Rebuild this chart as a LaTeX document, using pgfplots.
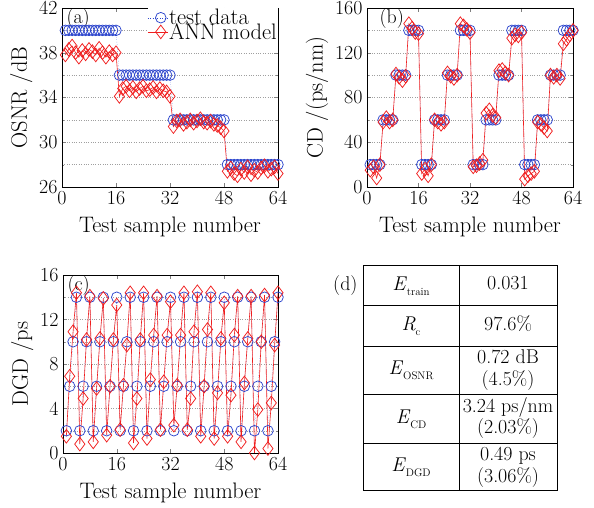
\documentclass[border=0pt]{standalone}
\usepackage{pgfplots}
\usepackage{pgfplotstable}
\pgfplotsset{compat=1.18}
\definecolor{tdblue}{RGB}{45,70,205}
\definecolor{annred}{RGB}{240,30,30}

% i, OSNR test/ANN, CD test/ANN, DGD test/ANN
\pgfplotstableread{
i osnr osnra cd cda dgd dgda
1 40 37.8 20 15 2 1.5
2 40 38.3 20 18 6 6.9
3 40 38.6 20 8 10 10.9
4 40 38.0 20 20 14 14.4
5 40 37.6 60 58 2 0.8
6 40 38.2 60 62 6 4.9
7 40 37.9 60 58 10 10.2
8 40 38.3 60 60 14 14.1
9 40 38.1 100 101 2 1.0
10 40 37.8 100 98 6 5.8
11 40 38.4 100 95 10 10.3
12 40 38.0 100 99 14 13.9
13 40 37.6 140 146 2 1.6
14 40 38.1 140 142 6 6.0
15 40 37.8 140 138 10 10.2
16 40 38.0 140 137 14 13.3
17 36 34.1 20 12 2 2.1
18 36 34.8 20 16 6 6.1
19 36 35.0 20 10 10 9.7
20 36 34.6 20 20 14 14.4
21 36 34.9 60 60 2 0.9
22 36 34.5 60 58 6 4.9
23 36 34.8 60 56 10 10.2
24 36 35.0 60 58 14 14.4
25 36 34.6 100 102 2 1.3
26 36 34.7 100 99 6 6.6
27 36 34.9 100 97 10 10.6
28 36 34.5 100 100 14 14.1
29 36 34.8 140 146 2 2.1
30 36 34.6 140 144 6 6.4
31 36 34.5 140 141 10 10.6
32 36 34.1 140 138 14 13.6
33 32 31.4 20 18 2 2.5
34 32 31.9 20 19 6 6.1
35 32 32.0 20 21 10 10.6
36 32 31.6 20 24 14 14.4
37 32 31.8 60 66 2 2.1
38 32 32.0 60 69 6 4.9
39 32 31.7 60 64 10 10.9
40 32 31.9 60 62 14 14.5
41 32 32.1 100 104 2 1.5
42 32 31.8 100 105 6 6.0
43 32 31.7 100 102 10 11.1
44 32 31.9 100 100 14 14.4
45 32 31.6 140 133 2 1.3
46 32 31.5 140 136 6 5.4
47 32 31.3 140 135 10 10.3
48 32 31.0 140 138 14 13.5
49 28 27.4 20 7 2 1.5
50 28 27.7 20 10 6 5.2
51 28 27.2 20 12 10 10.6
52 28 27.0 20 14 14 14.1
53 28 27.6 60 58 2 1.0
54 28 27.3 60 56 6 6.3
55 28 27.8 60 53 10 10.3
56 28 27.1 60 50 14 14.1
57 28 27.5 100 100 2 0.0
58 28 27.3 100 98 6 3.9
59 28 27.7 100 100 10 10.0
60 28 27.9 100 97 14 14.2
61 28 27.4 140 128 2 0.4
62 28 27.6 140 132 6 4.5
63 28 27.8 140 136 10 9.7
64 28 27.2 140 140 14 14.4
}\data

\newcommand{\bigfont}{\fontsize{20}{22}\selectfont}
\newcommand{\labfont}{\fontsize{22.5}{24}\selectfont}
\newcommand{\sub}[1]{\raisebox{-0.55ex}{\fontsize{11}{12}\selectfont #1}}

\pgfplotsset{
  panel/.style={
    scale only axis,
    xmin=0, xmax=64, xtick={0,16,...,64},
    tick align=inside,
    major tick length=4bp, minor tick length=2bp,
    ymajorgrids, yminorgrids,
    major grid style={dotted, gray!75},
    minor grid style={dotted, gray!75},
    minor y tick num=1,
    /pgf/number format/assume math mode=true,
    tick label style={font=\bigfont},
    xlabel={Test sample number},
    xticklabel style={yshift=-1bp},
    yticklabel style={xshift=-1bp},
    x label style={font=\labfont, yshift=-5bp},
    y label style={font=\labfont},
  },
  testdata/.style={tdblue, dotted, thin, mark=o, mark size=5.3bp,
    mark options={solid, line width=0.75pt}},
  annmodel/.style={annred, solid, line width=0.6pt, mark=diamond, mark size=6.8bp,
    mark options={solid, line width=0.75pt}},
}

\begin{document}
\begin{tikzpicture}[x=1bp, y=1bp]
\path[use as bounding box] (0,0) rectangle (594,508);

% (a) OSNR
\begin{axis}[panel,
  at={(62bp,321bp)}, anchor=south west, width=216bp, height=179bp,
  ymin=26, ymax=42, ytick={26,30,...,42},
  ylabel={OSNR /dB},
  legend style={at={(1,1)}, anchor=north east, draw=none, fill=white,
    font=\labfont, inner sep=0pt, row sep=-5pt, nodes={inner sep=1pt}},
  legend cell align=left,
  legend image code/.code={
    \draw[#1] (0bp,0bp) -- (20bp,0bp);
    \draw[#1, only marks] plot coordinates {(13bp,0bp)};
  },
]
\addplot[testdata] table[x=i, y=osnr] {\data};
\addlegendentry{test data}
\addplot[annmodel] table[x=i, y=osnra] {\data};
\addlegendentry{ANN model}
\node[anchor=north west, font=\bigfont, inner sep=0pt] at (rel axis cs:0.02,1.0) {(a)};
\end{axis}

% (b) CD
\begin{axis}[panel,
  at={(367bp,321bp)}, anchor=south west, width=206bp, height=179bp,
  ymin=0, ymax=160, ytick={0,40,...,160},
  ylabel={CD /(ps/nm)},
]
\addplot[testdata] table[x=i, y=cd] {\data};
\addplot[annmodel] table[x=i, y=cda] {\data};
\node[anchor=north west, font=\bigfont, inner sep=0pt] at (rel axis cs:0.06,1.0) {(b)};
\end{axis}

% (c) DGD
\begin{axis}[panel,
  at={(63bp,55bp)}, anchor=south west, width=215bp, height=178bp,
  ymin=0, ymax=16, ytick={0,4,...,16},
  ylabel={DGD /ps},
]
\addplot[testdata] table[x=i, y=dgd] {\data};
\addplot[annmodel] table[x=i, y=dgda] {\data};
\node[anchor=north west, font=\bigfont, inner sep=0pt] at (rel axis cs:0.02,1.0) {(c)};
\end{axis}

% (d) summary table
\draw[line width=0.8pt] (363,18) rectangle (557,243);
\draw[line width=0.8pt] (459,18) -- (459,243);
\foreach \yy in {202.3,162,114,65} {\draw[line width=0.8pt] (363,\yy) -- (557,\yy);}
\node[font=\bigfont, anchor=east] at (361,222) {(d)};
\node[font=\bigfont] at (411,222) {\textit{E}\sub{train}};
\node[font=\bigfont] at (411,182) {\textit{R}\sub{c}};
\node[font=\bigfont] at (411,138) {\textit{E}\sub{OSNR}};
\node[font=\bigfont] at (411,89) {\textit{E}\sub{CD}};
\node[font=\bigfont] at (411,41) {\textit{E}\sub{DGD}};
\node[font=\bigfont] at (508,225) {0.031};
\node[font=\bigfont] at (508,184) {97.6\%};
\node[font=\bigfont, align=center] at (508,138) {0.72 dB\\(4.5\%)};
\node[font=\bigfont, align=center] at (508,90) {3.24 ps/nm\\(2.03\%)};
\node[font=\bigfont, align=center] at (508,41) {0.49 ps\\(3.06\%)};
\end{tikzpicture}
\end{document}
